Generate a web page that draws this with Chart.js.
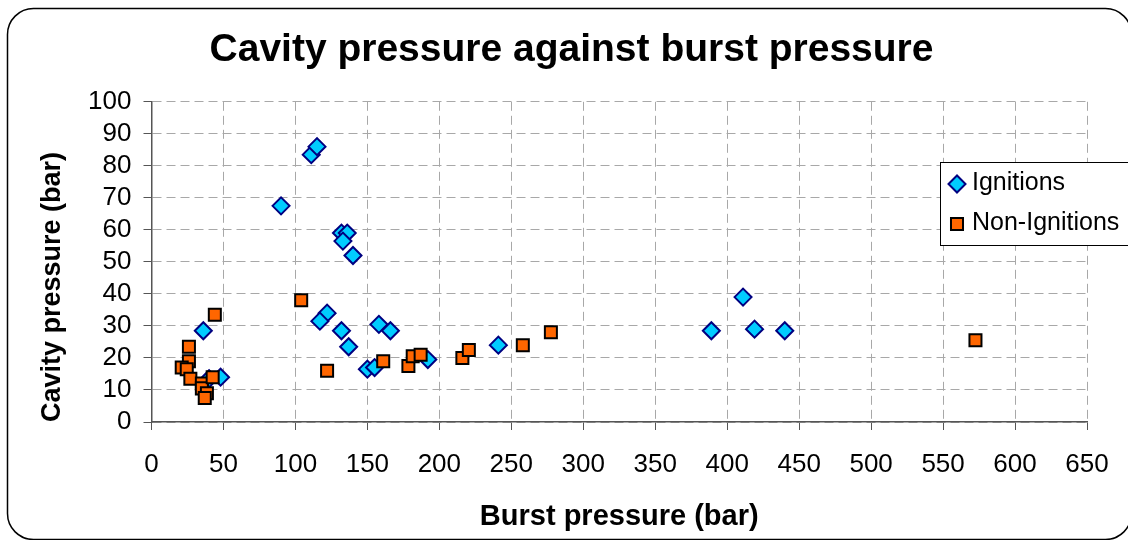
<!DOCTYPE html>
<html>
<head>
<meta charset="utf-8">
<script src="https://cdn.jsdelivr.net/npm/chart.js@4/dist/chart.umd.min.js"></script>
<style>
  html, body { margin: 0; padding: 0; background: #fff; }
  #wrap { width: 1128px; height: 540px; position: relative; }
</style>
</head>
<body>
<div id="wrap"><canvas id="chart" width="1128" height="540"></canvas></div>
<script>
// values
const ignitionsBurst = [90, 111, 115, 132, 136, 133, 140, 122, 117, 132, 137, 150, 155, 158, 166, 192, 241, 411, 389, 419, 440, 36, 48, 40];
const ignitionsCavity = [67.5, 83.5, 86, 59, 59, 56.5, 52, 34, 31.5, 28.5, 23.5, 16.5, 17, 30.5, 28.5, 19.5, 24, 39, 28.5, 29, 28.5, 28.5, 14, 13.5];
const nonIgnitionsBurst = [44, 26, 26, 21, 24.5, 27, 35, 35, 38.5, 37, 42.5, 104, 122, 161, 178.5, 181.5, 187, 216, 220.5, 258, 277.5, 572.5];
const nonIgnitionsCavity = [33.5, 23.5, 19, 17, 16.5, 13.5, 12, 10.5, 9, 7.5, 14, 38, 16, 19, 17.5, 20.5, 21, 20, 22.5, 24, 28, 25.5];
const seriesNames = ["Ignitions", "Non-Ignitions"];

function toPoints(xs, ys) {
  return xs.map(function (x, i) { return { x: x, y: ys[i] }; });
}

const FONT = "'Liberation Sans', Arial, sans-serif";

// rounded frame round the whole chart, title nudged to the frame centre
const framePlugin = {
  id: "frame",
  afterLayout: function (chart) {
    if (chart.titleBlock) {
      chart.titleBlock.left += 24;
      chart.titleBlock.right += 24;
    }
  },
  beforeDraw: function (chart) {
    const ctx = chart.ctx;
    ctx.save();
    ctx.fillStyle = "#fff";
    ctx.fillRect(0, 0, chart.width, chart.height);
    ctx.strokeStyle = "#000";
    ctx.lineWidth = 1.5;
    ctx.beginPath();
    ctx.roundRect(7.5, 8.5, 1124, 531, 26);
    ctx.stroke();
    ctx.restore();
  }
};

// boxed legend sitting over the right of the plot
const legendBoxPlugin = {
  id: "legendBox",
  afterDraw: function (chart) {
    const ctx = chart.ctx;
    ctx.save();
    ctx.fillStyle = "#fff";
    ctx.strokeStyle = "#000";
    ctx.lineWidth = 1;
    ctx.fillRect(940.5, 162.5, 200, 83);
    ctx.strokeRect(940.5, 162.5, 200, 83);

    const ds = chart.data.datasets;
    const rows = [184, 224];
    ds.forEach(function (d, i) {
      ctx.fillStyle = d.backgroundColor;
      ctx.strokeStyle = d.borderColor;
      ctx.lineWidth = d.borderWidth;
      Chart.helpers.drawPoint(ctx, {
        pointStyle: d.pointStyle,
        radius: d.pointRadius,
        rotation: 0,
        borderWidth: d.borderWidth
      }, 957, rows[i]);
      ctx.fillStyle = "#000";
      ctx.font = "25px " + FONT;
      ctx.textBaseline = "middle";
      ctx.fillText(d.label, 972, rows[i] - 1);
    });
    ctx.restore();
  }
};

const dashGrid = {
  color: "#a8a8a8",
  lineWidth: 1,
  drawTicks: true,
  tickLength: 8,
  tickColor: "#555",
  tickBorderDash: []
};
const axisBorder = { display: true, color: "#555", width: 1.5, dash: [9, 5] };

new Chart(document.getElementById("chart").getContext("2d"), {
  type: "scatter",
  data: {
    datasets: [
      {
        label: seriesNames[0],
        data: toPoints(ignitionsBurst, ignitionsCavity),
        pointStyle: "rectRot",
        pointRadius: 8.5,
        backgroundColor: "#00ccff",
        borderColor: "#000080",
        borderWidth: 2,
        order: 2
      },
      {
        label: seriesNames[1],
        data: toPoints(nonIgnitionsBurst, nonIgnitionsCavity),
        pointStyle: "rect",
        pointRadius: 8.5,
        backgroundColor: "#ff6600",
        borderColor: "#000",
        borderWidth: 2,
        order: 1
      }
    ]
  },
  options: {
    responsive: false,
    animation: false,
    devicePixelRatio: 1,
    layout: { padding: { left: 8, right: 41, top: 0, bottom: 0 } },
    plugins: {
      legend: { display: false },
      tooltip: { enabled: false },
      title: {
        display: true,
        text: "Cavity pressure against burst pressure",
        color: "#000",
        font: { family: FONT, size: 39, weight: "bold" },
        padding: { top: 27, bottom: 28 }
      }
    },
    scales: {
      x: {
        type: "linear",
        min: 0,
        max: 650,
        grid: dashGrid,
        border: axisBorder,
        ticks: {
          stepSize: 50,
          autoSkip: false,
          color: "#000",
          padding: 19,
          maxRotation: 0,
          font: { family: FONT, size: 26 }
        },
        title: {
          display: true,
          text: "Burst pressure (bar)",
          color: "#000",
          font: { family: FONT, size: 29, weight: "bold" },
          padding: { top: 0, bottom: 6 }
        },
        afterFit: function (scale) { scale.height = 118; }
      },
      y: {
        type: "linear",
        min: 0,
        max: 100,
        grid: dashGrid,
        border: axisBorder,
        ticks: {
          stepSize: 10,
          autoSkip: false,
          color: "#000",
          padding: 12,
          font: { family: FONT, size: 26 }
        },
        title: {
          display: true,
          text: "Cavity pressure (bar)",
          color: "#000",
          align: "start",
          font: { family: FONT, size: 27, weight: "bold" },
          padding: { top: 28, bottom: 0 }
        },
        afterFit: function (scale) { scale.width = 143.5; }
      }
    }
  },
  plugins: [framePlugin, legendBoxPlugin]
});
</script>
</body>
</html>
